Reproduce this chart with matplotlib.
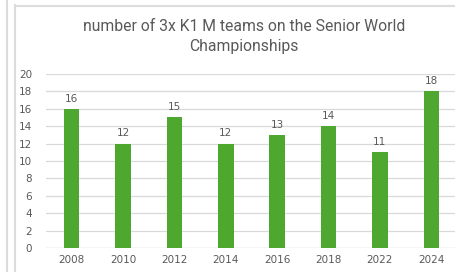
import matplotlib; matplotlib.use("Agg")
import matplotlib.pyplot as plt
from matplotlib.lines import Line2D

years = ["2008", "2010", "2012", "2014", "2016", "2018", "2022", "2024"]
teams = [16, 12, 15, 12, 13, 14, 11, 18]

txt = "#595959"
green = "#4ea72e"
grid = "#d9d9d9"

plt.rcParams.update({"font.family": "DejaVu Sans"})
fig = plt.figure(figsize=(4.56, 2.72), dpi=100)

# screenshot frame edges (neighbouring chart + this chart's border)
fig.add_artist(Line2D([7/456, 7/456], [0, 1], color="#dcdcdc", lw=1.5))
fig.add_artist(Line2D([15.5/456, 15.5/456], [0, 1 - 5/272], color="#dcdcdc", lw=1.5))
fig.add_artist(Line2D([15.5/456, 1], [1 - 5.5/272, 1 - 5.5/272], color="#dcdcdc", lw=1.5))

ax = fig.add_axes([46/456, 24/272, 411/456, 174/272])
x = range(len(years))
bars = ax.bar(x, teams, width=0.3, color=green, zorder=3)
for i, v in enumerate(teams):
    ax.text(i, v + 0.6, str(v), ha="center", va="bottom", fontsize=7.5, color=txt)

ax.set_xlim(-0.5, len(years) - 0.5)
ax.set_ylim(0, 20)
ax.set_yticks(range(0, 21, 2))
ax.set_xticks(list(x))
ax.set_xticklabels(years)
ax.tick_params(length=0, labelsize=7.5, colors=txt)
ax.tick_params(axis="y", pad=10)
ax.tick_params(axis="x", pad=5)
ax.grid(axis="y", color=grid, lw=0.9, zorder=0)
for s in ax.spines.values():
    s.set_visible(False)
ax.axhline(0, color=grid, lw=0.9, zorder=1)

fig.text(244/456, 1 - 36.5/272, "number of 3x K1 M teams on the Senior World\nChampionships",
         ha="center", va="center", fontsize=11.3, color=txt, linespacing=1.45,
         family="Roboto")

fig.savefig("out.png", dpi=100)
